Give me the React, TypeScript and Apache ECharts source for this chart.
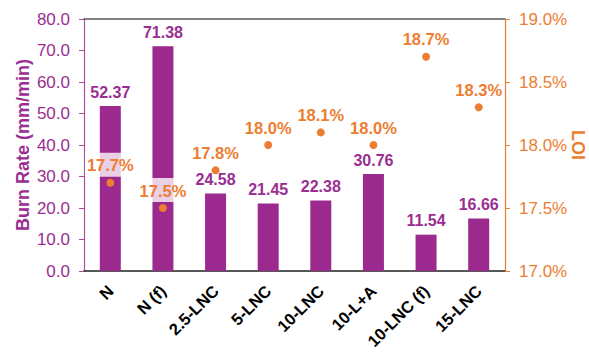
import React, { useEffect, useRef } from "react";
import * as echarts from "echarts";

const categories = ["N", "N (f)", "2.5-LNC", "5-LNC", "10-LNC", "10-L+A", "10-LNC (f)", "15-LNC"];
const burnRate = [52.37, 71.38, 24.58, 21.45, 22.38, 30.76, 11.54, 16.66];
const loi = [17.7, 17.5, 17.8, 18.0, 18.1, 18.0, 18.7, 18.3];

const PURPLE = "#9C2A8E";
const PURPLE_TEXT = "#9A2E92";
const ORANGE = "#ED7D31";
const FONT = "'Liberation Sans', Arial, sans-serif";

export default function App() {
  const ref = useRef<HTMLDivElement>(null);
  useEffect(() => {
    if (!ref.current) return;
    const chart = echarts.init(ref.current, undefined, { renderer: "svg" });
    chart.setOption({
      animation: false,
      textStyle: { fontFamily: FONT },
      grid: { left: 84, right: 84, top: 19, bottom: 81, containLabel: false, outerBoundsMode: "none" },
      xAxis: [
        {
          type: "category",
          data: categories,
          axisLine: { lineStyle: { color: "#222", width: 1.5 } },
          axisTick: { show: false },
          axisLabel: {
            interval: 0,
            rotate: 45,
            color: "#000",
            fontWeight: "bold",
            fontSize: 16.5,
            fontFamily: FONT,
            margin: 17,
          },
        },
        {
          type: "category",
          position: "top",
          data: categories,
          axisLine: { show: true, lineStyle: { color: "#555", width: 1.5 } },
          axisTick: { show: false },
          axisLabel: { show: false },
        },
      ],
      yAxis: [
        {
          type: "value",
          min: 0,
          max: 80,
          interval: 10,
          name: "Burn Rate (mm/min)",
          nameLocation: "middle",
          nameMoveOverlap: false,
          nameGap: 52,
          nameTextStyle: { color: PURPLE_TEXT, fontWeight: "bold", fontSize: 18, fontFamily: FONT },
          axisLine: { show: true, lineStyle: { color: "#A84FA0", width: 1.2 } },
          axisTick: { show: true, length: 5, lineStyle: { color: "#A84FA0" } },
          splitLine: { show: false },
          axisLabel: {
            color: PURPLE_TEXT,
            fontSize: 17,
            fontFamily: FONT,
            margin: 14,
            formatter: (v: number) => v.toFixed(1),
          },
        },
        {
          type: "value",
          min: 17,
          max: 19,
          interval: 0.5,
          position: "right",
          name: "LOI",
          nameLocation: "middle",
          nameMoveOverlap: false,
          nameRotate: -90,
          nameGap: 64,
          nameTextStyle: { color: ORANGE, fontWeight: "bold", fontSize: 18, fontFamily: FONT },
          axisLine: { show: true, lineStyle: { color: ORANGE, width: 1.2 } },
          axisTick: { show: true, length: 5, lineStyle: { color: ORANGE } },
          splitLine: { show: false },
          axisLabel: {
            color: ORANGE,
            fontSize: 17,
            fontFamily: FONT,
            margin: 14,
            formatter: (v: number) => v.toFixed(1) + "%",
          },
        },
      ],
      series: [
        {
          type: "bar",
          data: burnRate,
          barWidth: 21,
          itemStyle: { color: PURPLE },
          label: {
            show: true,
            position: "top",
            distance: 6,
            color: PURPLE_TEXT,
            fontWeight: "bold",
            fontSize: 16,
            fontFamily: FONT,
            formatter: (p: any) => p.value.toFixed(2),
          },
          z: 2,
        },
        {
          type: "scatter",
          data: loi,
          yAxisIndex: 1,
          symbol: "circle",
          symbolSize: 8,
          itemStyle: { color: ORANGE, opacity: 1 },
          label: {
            show: true,
            position: "top",
            distance: 2,
            color: ORANGE,
            fontWeight: "bold",
            fontSize: 16.5,
            fontFamily: FONT,
            backgroundColor: "rgba(255,255,255,0.78)",
            padding: [4, 2, 3, 2],
            formatter: (p: any) => p.value.toFixed(1) + "%",
          },
          z: 3,
        },
      ],
    });
    return () => chart.dispose();
  }, []);
  return <div ref={ref} style={{ position: "absolute", left: 0, top: 0, width: 589, height: 352 }} />;
}
